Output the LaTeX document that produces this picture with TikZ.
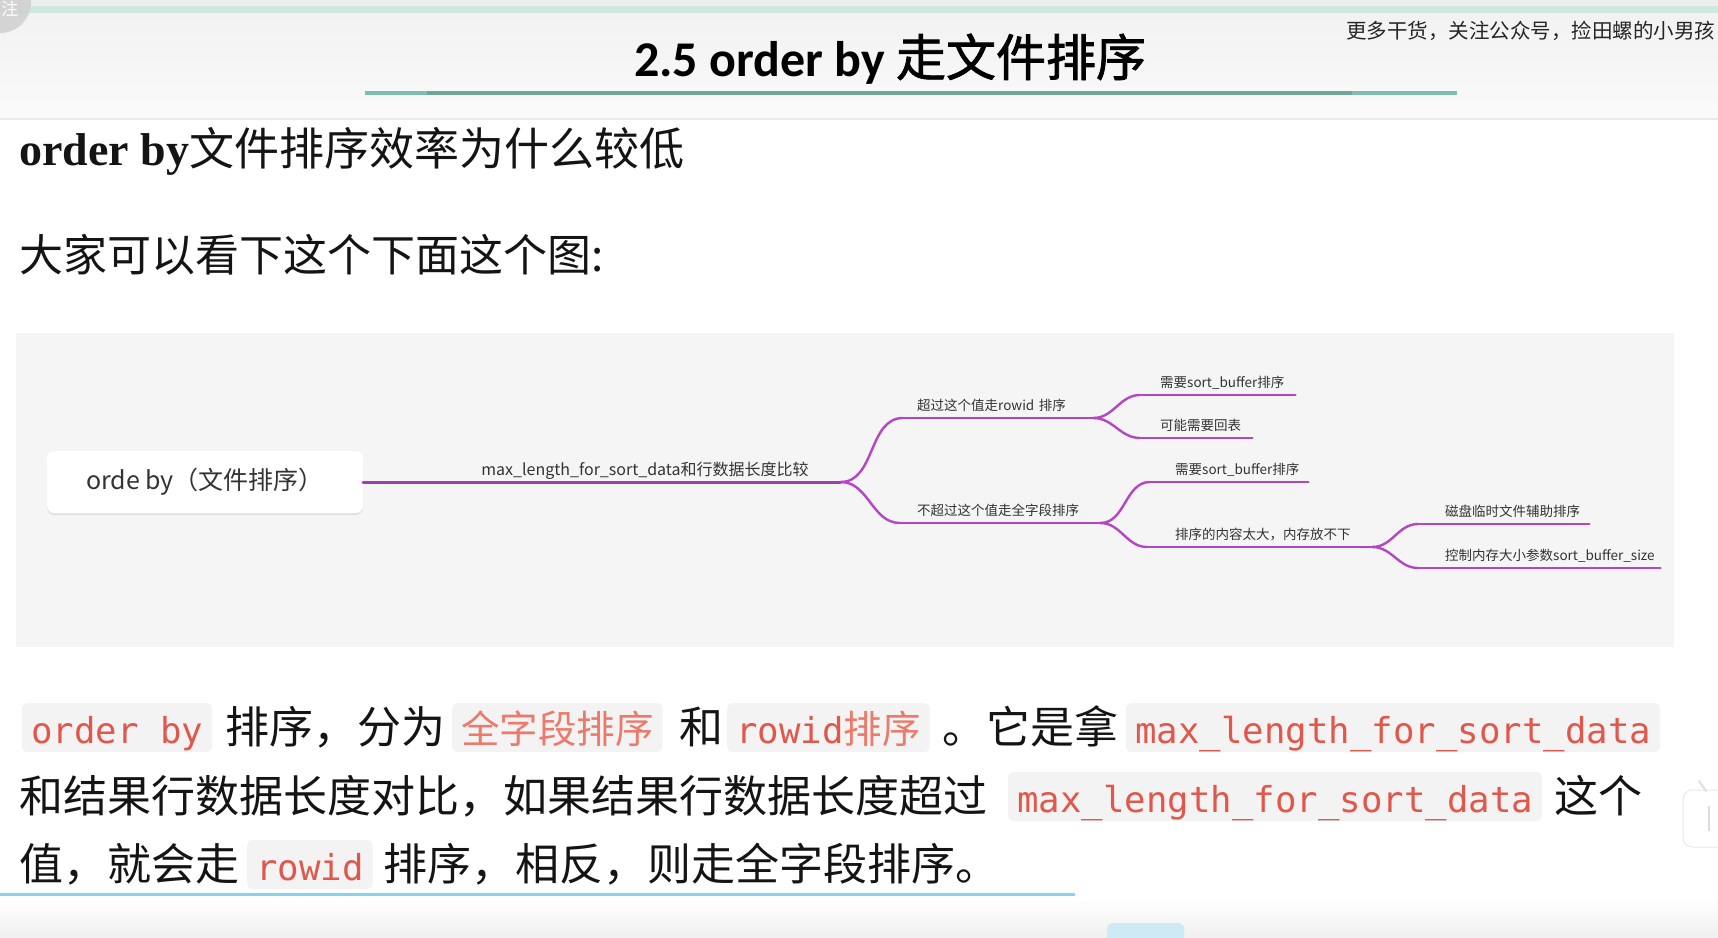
\documentclass[tikz,border=0pt]{standalone}
\usepackage{fontspec}
\setmainfont{Liberation Serif}
\newfontfamily\cjk{Noto Sans CJK SC}
\newfontfamily\cjkt[FakeBold=1.6]{Noto Sans CJK SC}
\newfontfamily\latin{Carlito}
\newfontfamily\mono{DejaVu Sans Mono}
\usetikzlibrary{positioning,shadows}
\definecolor{mBranch} {RGB}{180, 70,195}
\definecolor{mText}   {RGB}{ 51, 51, 51}
\definecolor{mPanel}  {RGB}{245,245,245}
\definecolor{codeBg}  {RGB}{243,243,243}
\definecolor{codeRed} {RGB}{224, 88, 76}
\definecolor{codeCjk} {RGB}{236,122,106}
\definecolor{bodyText}{RGB}{ 20, 20, 20}
\definecolor{tealBand}{RGB}{205,232,223}
\definecolor{tealRule}{RGB}{125,190,175}
\definecolor{tealDark}{RGB}{112,165,152}
\definecolor{hdTop}   {RGB}{241,241,241}
\definecolor{hdBot}   {RGB}{250,250,250}
\definecolor{hdRule}  {RGB}{232,232,232}
\definecolor{blueRule}{RGB}{130,212,240}
\definecolor{tabBlue} {RGB}{205,234,245}
\newcommand\fsz[1]{\fontsize{#1}{#1}\selectfont}
\newcommand\codecjk{\cjk\fsz{38.5}\color{codeCjk}}

\begin{document}
\begin{tikzpicture}[x=1pt,y=-1pt]

% ---------------------------------------------------------------- styles
\tikzset{
  rootbox/.style   = {fill=white, rounded corners=7pt, minimum width=316pt,
                      minimum height=62pt, inner sep=0pt, font=\cjk\fsz{25},
                      text=mText,
                      drop shadow={shadow xshift=0pt, shadow yshift=-2pt,
                                   opacity=.08, fill=black}},
  topic/.style     = {anchor=south west, inner xsep=0pt, inner ysep=0pt,
                      align=left, text height=10pt, text depth=7pt,
                      font=\cjk\fsz{13.5}, text=mText},
  mainTopic/.style = {topic, text height=12pt, text depth=6pt,
                      font=\cjk\fsz{16}},
  branch/.style    = {draw=mBranch, line width=2.4pt, line cap=round},
  trunkline/.style = {branch, draw=mBranch!88!black, line width=3pt},
  body/.style      = {anchor=base west, inner sep=0pt, font=\cjk\fsz{44},
                      text=bodyText},
  code/.style      = {anchor=base west, fill=codeBg, rounded corners=5pt,
                      inner xsep=9pt, inner ysep=0pt, text height=40pt,
                      text depth=9pt, font=\mono\fsz{35.7}, text=codeRed},
}

\useasboundingbox (0,0) rectangle (1718,937);

% ================================================================ page
\fill[white] (0,0) rectangle (1718,937);
\shade[top color=hdTop, bottom color=hdBot] (0,0) rectangle (1718,119);
\fill[hdRule]   (0,118) rectangle (1718,120);
\fill[black!7]  (0,0) rectangle (1718,6);
\fill[tealBand] (0,6) rectangle (1718,13);
\shade[top color=white, bottom color=black!6] (0,898) rectangle (1718,937);

\fill[black!18, opacity=.9] (0,2) circle (31);
\node[font=\cjk\fsz{17}, text=white] (note) at (10,9) {注};

% ================================================================ title
\node[anchor=base, inner sep=0pt] (title) at (890,76)
  {{\latin\bfseries\fsz{50}2.5 order by }{\cjkt\fsz{50}走文件排序}};
\draw[line width=3.5pt, draw=tealRule] (365,93) -- (1457,93);
\draw[line width=3.5pt, draw=tealDark] (427,93) -- (1352,93);
\node[anchor=base west, inner sep=0pt, font=\cjk\fsz{20.5}, text=black!85]
  (ad) at (1346,38) {更多干货，关注公众号，捡田螺的小男孩};

% ================================================================ text above
\node[anchor=base west, inner sep=0pt, text=bodyText] (head) at (19,165)
  {{\bfseries\fsz{46}order by}{\cjk\fsz{45}文件排序效率为什么较低}};
\node[body] (intro) at (19,271) {大家可以看下这个下面这个图:};

% ================================================================ mind map
\fill[mPanel] (16,333) rectangle (1674,647);

\node[rootbox] (root) at (205,482) {orde by（文件排序）};

\node[mainTopic, text width=477pt] (m) at (root.east)
  {\hspace*{118pt}max\_length\_for\_sort\_data和行数据长度比较};

\node[topic, text width=190pt] (b1) at (903,418)
  {\hspace*{14pt}超过这个值走rowid 排序};
\node[topic, text width=200pt] (b2) at (900,523)
  {\hspace*{17pt}不超过这个值走全字段排序};

\node[topic, text width=155pt] (c11) at (1140,395)
  {\hspace*{20pt}需要sort\_buffer排序};
\node[topic, text width=112pt] (c12) at (1140,438)
  {\hspace*{20pt}可能需要回表};
\node[topic, text width=158pt] (c21) at (1150,482)
  {\hspace*{25pt}需要sort\_buffer排序};
\node[topic, text width=225pt] (c22) at (1147,547)
  {\hspace*{28pt}排序的内容太大，内存放不下};

\node[topic, text width=171pt] (c221) at (1418,524)
  {\hspace*{27pt}磁盘临时文件辅助排序};
\node[topic, text width=242pt] (c222) at (1418,568)
  {\hspace*{27pt}控制内存大小参数sort\_buffer\_size};

% underlines
\draw[trunkline] (m.south west) -- (m.south east);
\draw[branch] (b1.south west) -- (b1.south east);
\draw[branch] (b2.south west) -- (b2.south east);
\draw[branch] (c11.south west) -- (c11.south east);
\draw[branch] (c12.south west) -- (c12.south east);
\draw[branch] (c21.south west) -- (c21.south east);
\draw[branch] (c22.south west) -- (c22.south east);
\draw[branch] (c221.south west) -- (c221.south east);
\draw[branch] (c222.south west) -- (c222.south east);

% curved links
\draw[branch] (m.south east) to[out=0,in=180] (b1.south west);
\draw[branch] (m.south east) to[out=0,in=180] (b2.south west);
\draw[branch] (b1.south east) to[out=0,in=180] (c11.south west);
\draw[branch] (b1.south east) to[out=0,in=180] (c12.south west);
\draw[branch] (b2.south east) to[out=0,in=180] (c21.south west);
\draw[branch] (b2.south east) to[out=0,in=180] (c22.south west);
\draw[branch] (c22.south east) to[out=0,in=180] (c221.south west);
\draw[branch] (c22.south east) to[out=0,in=180] (c222.south west);

% ================================================================ paragraph
\node[code] (k1) at (22,743)   {order by};
\node[body] (t1) at (225,743)  {排序，分为};
\node[code] (k2) at (452,743)  {\codecjk 全字段排序};
\node[body] (t2) at (679,743)  {和};
\node[code] (k3) at (727,743)  {rowid{\codecjk 排序}};
\node[body] (t3) at (942,743)  {。它是拿};
\node[code] (k4) at (1126,743) {max\_length\_for\_sort\_data};

\node[body] (t4) at (19,812)   {和结果行数据长度对比，如果结果行数据长度超过};
\node[code] (k5) at (1008,812) {max\_length\_for\_sort\_data};
\node[body] (t5) at (1554,812) {这个};

\node[body] (t6) at (19,880)   {值，就会走};
\node[code] (k6) at (247,880)  {rowid};
\node[body] (t7) at (383,880)  {排序，相反，则走全字段排序。};

% ================================================================ page foot
\draw[blueRule, line width=3pt] (0,894) -- (1075,894);
\fill[tabBlue, rounded corners=6pt] (1107,923) rectangle (1184,950);

\draw[fill=white, draw=black!9, line width=1pt, rounded corners=9pt]
  (1683,790) rectangle (1745,847);
\draw[black!12, line width=2pt, line cap=round] (1699,781) -- (1706,791);
\draw[black!14, line width=2.5pt] (1709,806) -- (1709,831);

\end{tikzpicture}
\end{document}
